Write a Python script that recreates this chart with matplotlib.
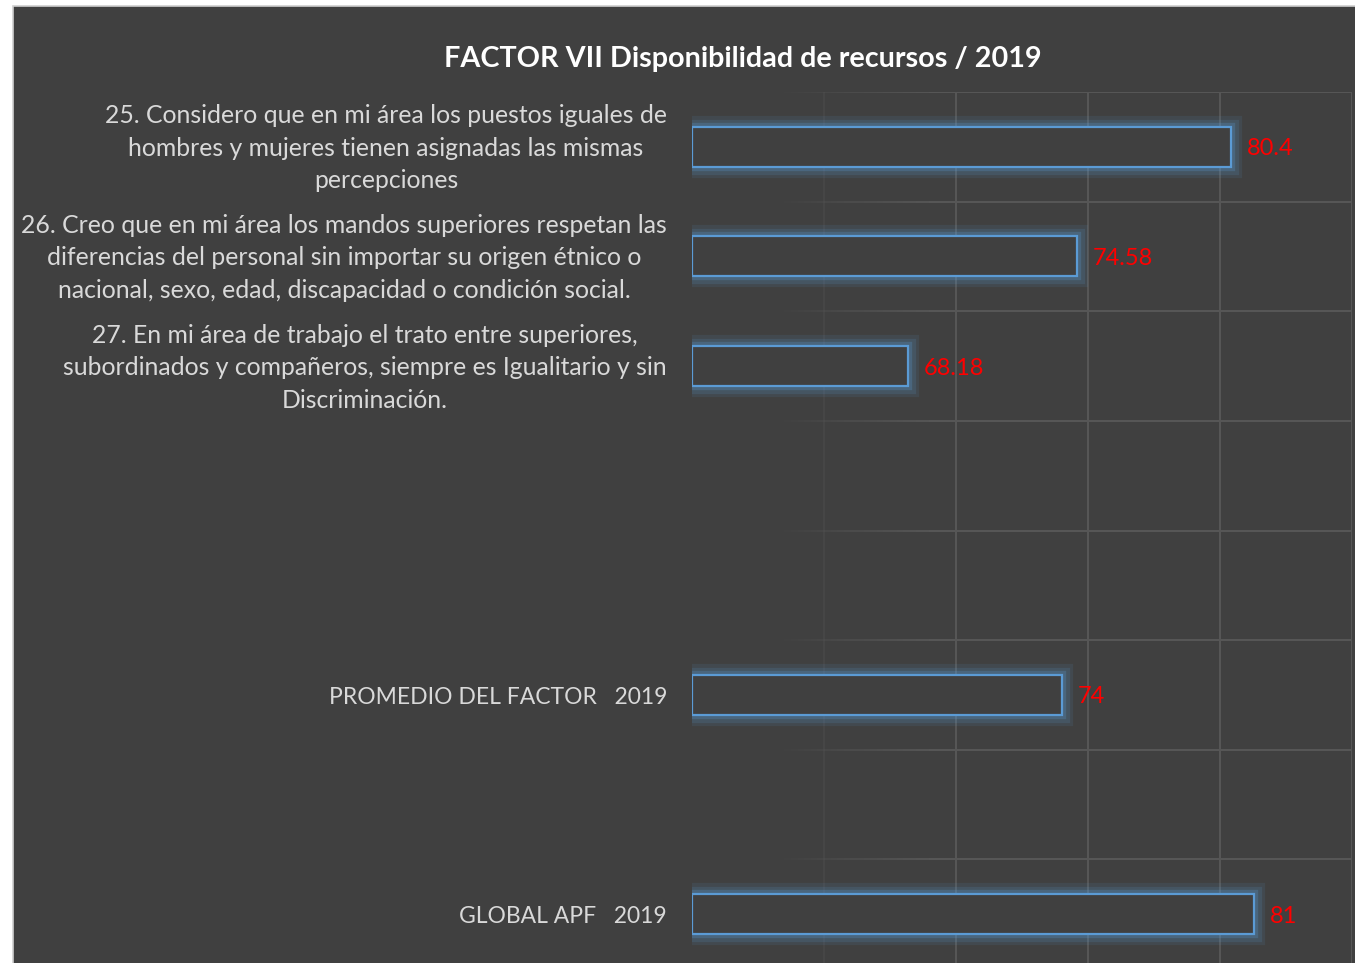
import numpy as np
import matplotlib
matplotlib.use("Agg")
import matplotlib.pyplot as plt
import matplotlib.patheffects as pe
import matplotlib.transforms as mtransforms
from matplotlib.patches import Rectangle

plt.rcParams['font.family'] = ['Lato', 'DejaVu Sans']

# datos
categorias = [
    "25. Considero que en mi área los puestos iguales de\nhombres y mujeres tienen asignadas las mismas\npercepciones",
    "26. Creo que en mi área los mandos superiores respetan las\ndiferencias del personal sin importar su origen étnico o\nnacional, sexo, edad, discapacidad o condición social.",
    "27. En mi área de trabajo el trato entre superiores,\nsubordinados y compañeros, siempre es Igualitario y sin\nDiscriminación.",
    "",
    "",
    "PROMEDIO DEL FACTOR   2019",
    "",
    "GLOBAL APF   2019",
]
valores = [80.4, 74.58, 68.18, None, None, 74, None, 81.3]
etiquetas = ["80.4", "74.58", "68.18", "", "", "74", "", "81"]
titulo = "FACTOR VII Disponibilidad de recursos / 2019"

fondo = '#404040'
azul = '#5b9bd5'
rejilla = '#565656'

fig = plt.figure(figsize=(13.55, 9.63), dpi=100, facecolor='white')
# marco del area del grafico
marco = Rectangle((13 / 1355, -0.01), 1.0, 1 - 6 / 963 + 0.01,
                  transform=fig.transFigure, facecolor=fondo,
                  edgecolor='#d0d0d0', linewidth=1.2, zorder=-10)
fig.patches.append(marco)

ax = fig.add_axes([692 / 1355, -6 / 963, 660 / 1355, 877 / 963])
ax.set_facecolor('none')
ax.set_zorder(5)

y = np.arange(len(categorias))
ax.set_xlim(60, 85)
ax.set_ylim(len(categorias) - 0.5, -0.5)

# lineas verticales (la de 65 casi no se ve)
for xv in [65, 70, 75, 80, 85]:
    ax.axvline(xv, color=rejilla, linewidth=1.5, zorder=1,
               alpha=0.3 if xv == 65 else 1.0)

# lineas horizontales con desvanecido a la izquierda
for yb in np.arange(-0.5, len(categorias) + 0.5, 1.0):
    xs = np.linspace(63, 69, 25)
    for i in range(len(xs) - 1):
        ax.plot([xs[i], xs[i + 1]], [yb, yb], color=rejilla, linewidth=1.5,
                alpha=i / (len(xs) - 1), solid_capstyle='butt', zorder=1)
    ax.plot([69, 85], [yb, yb], color=rejilla, linewidth=1.5, zorder=1)

brillo = [pe.Stroke(linewidth=16, foreground=azul, alpha=0.1),
          pe.Stroke(linewidth=11, foreground=azul, alpha=0.15),
          pe.Stroke(linewidth=6, foreground=azul, alpha=0.25),
          pe.Normal()]

for yi, v, txt in zip(y, valores, etiquetas):
    if v is None:
        continue
    b = ax.barh(yi, v - 60, left=60, height=0.365, facecolor=fondo,
                edgecolor=azul, linewidth=1.6, zorder=3)
    b[0].set_path_effects(brillo)
    ax.text(v + 0.6, yi, txt, color='red', fontsize=17, va='center_baseline',
            ha='left', zorder=4)

# etiquetas de categoria (texto a la izquierda del eje)
base = mtransforms.blended_transform_factory(ax.transAxes, ax.transData)
for yi, c in zip(y, categorias):
    if not c:
        continue
    if '\n' in c:
        desp = mtransforms.ScaledTranslation(-25 / 100, -1.5 / 100, fig.dpi_scale_trans)
        ax.text(0, yi, c, transform=base + desp, ha='right', va='center',
                multialignment='center', fontsize=17.8, color='#d9d9d9',
                linespacing=1.5)
    else:
        desp = mtransforms.ScaledTranslation(-25 / 100, -2.5 / 100, fig.dpi_scale_trans)
        ax.text(0, yi, c, transform=base + desp, ha='right', va='center',
                fontsize=16.5, color='#d9d9d9')

ax.set_yticks([])
ax.set_xticks([])
for s in ax.spines.values():
    s.set_visible(False)

fig.text(743 / 1355, 1 - 59 / 963, titulo, color='white', fontsize=20.7,
         fontweight='bold', ha='center', va='center')

fig.savefig('out.png', dpi=100, facecolor='white')
